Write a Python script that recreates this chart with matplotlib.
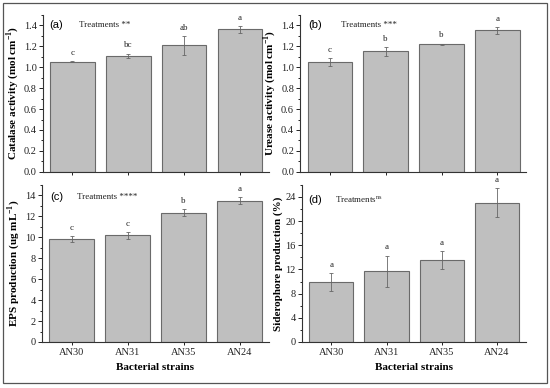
import matplotlib.pyplot as plt
from matplotlib.patches import Rectangle
from matplotlib.ticker import MultipleLocator

plt.rcParams["font.family"] = ["Liberation Serif", "DejaVu Serif"]
plt.rcParams["mathtext.fontset"] = "custom"
plt.rcParams["mathtext.rm"] = "Liberation Serif"
plt.rcParams["mathtext.bf"] = "Liberation Serif:bold"

strains = ["AN30", "AN31", "AN35", "AN24"]

catalase = [1.05, 1.11, 1.21, 1.36]
catalase_err = [0.005, 0.02, 0.09, 0.03]
catalase_letters = ["c", "bc", "ab", "a"]

urease = [1.05, 1.15, 1.22, 1.35]
urease_err = [0.035, 0.045, 0.005, 0.035]
urease_letters = ["c", "b", "b", "a"]

eps = [9.85, 10.17, 12.33, 13.5]
eps_err = [0.27, 0.3, 0.32, 0.35]
eps_letters = ["c", "c", "b", "a"]

siderophore = [9.9, 11.7, 13.6, 23.0]
siderophore_err = [1.5, 2.6, 1.45, 2.4]
siderophore_letters = ["a", "a", "a", "a"]

BAR_COLOR = "#bfbfbf"
EDGE_COLOR = "#6a6a6a"
ERR_COLOR = "#666666"

panels = [
    # data, err, letters, ylabel, ylim, major, minor, tag, treat, pos, letter offset
    (catalase, catalase_err, catalase_letters,
     r"Catalase activity (mol cm$^{\mathbf{-1}}$)", 1.5, 0.2, 0.1,
     "(a)", "Treatments **", [0.078, 0.557, 0.411, 0.405], (0.027, 0.935), (0.16, 0.935)),
    (urease, urease_err, urease_letters,
     r"Urease activity (mol cm$^{\mathbf{-1}}$)", 1.5, 0.2, 0.1,
     "(b)", "Treatments ***", [0.546, 0.557, 0.411, 0.405], (0.035, 0.935), (0.18, 0.935)),
    (eps, eps_err, eps_letters,
     r"EPS production (ug mL$^{\mathbf{-1}}$)", 15, 2, 1,
     "(c)", "Treatments ****", [0.076, 0.1186, 0.413, 0.405], (0.035, 0.925), (0.155, 0.925)),
    (siderophore, siderophore_err, siderophore_letters,
     "Siderophore production (%)", 26, 4, 2,
     "(d)", r"Treatments$^{\rm ns}$", [0.549, 0.1186, 0.407, 0.405], (0.027, 0.905), (0.146, 0.905)),
]

fig = plt.figure(figsize=(5.5, 3.88), dpi=100)

for i, (vals, errs, letters, ylabel, ytop, major, minor, tag, treat, pos, tagxy, trxy) in enumerate(panels):
    ax = fig.add_axes(pos)
    x = list(range(len(strains)))
    ax.bar(x, vals, width=0.8, color=BAR_COLOR, edgecolor=EDGE_COLOR, linewidth=0.8, zorder=2)
    ax.errorbar(x, vals, yerr=errs, fmt="none", ecolor=ERR_COLOR, elinewidth=0.6,
                capsize=1.5, capthick=0.6, zorder=3)
    for xi, v, e, lab in zip(x, vals, errs, letters):
        ax.annotate(lab, (xi, v + e), xytext=(0, 3), textcoords="offset points",
                    ha="center", va="bottom", fontsize=6.5, color="#222222")

    ax.set_xlim(-0.53, 3.52)
    ax.set_ylim(0, ytop)
    ax.yaxis.set_major_locator(MultipleLocator(major))
    ax.yaxis.set_minor_locator(MultipleLocator(minor))
    if major < 1:
        ax.yaxis.set_major_formatter(plt.FormatStrFormatter("%.1f"))
    ax.set_xticks(x)
    if i >= 2:
        ax.set_xticklabels(strains, fontsize=7.5)
        ax.set_xlabel("Bacterial strains", fontsize=8, fontweight="bold", labelpad=4)
    else:
        ax.set_xticklabels([])

    ax.set_ylabel(ylabel, fontsize=8, fontweight="bold", labelpad=2)
    ax.tick_params(axis="y", labelsize=7.5, length=3, width=0.7, pad=1.5, colors="#222222")
    ax.tick_params(axis="y", which="minor", length=1.5, width=0.6)
    ax.tick_params(axis="x", length=2.5, width=0.7, pad=2, colors="#222222")

    for side in ["top", "right"]:
        ax.spines[side].set_visible(False)
    for side in ["left", "bottom"]:
        ax.spines[side].set_color("#333333")
        ax.spines[side].set_linewidth(0.8)

    ax.text(tagxy[0], tagxy[1], tag, transform=ax.transAxes, fontsize=8,
            family=["Liberation Sans", "DejaVu Sans"], va="center", ha="left")
    ax.text(trxy[0], trxy[1], treat, transform=ax.transAxes, fontsize=6.5,
            va="center", ha="left", color="#222222")

# outer frame around the whole figure
fig.patches.append(Rectangle((0.006, 0.012), 0.989, 0.98, transform=fig.transFigure,
                             fill=False, edgecolor="#555555", linewidth=0.9))

fig.savefig("out.png", dpi=100)
